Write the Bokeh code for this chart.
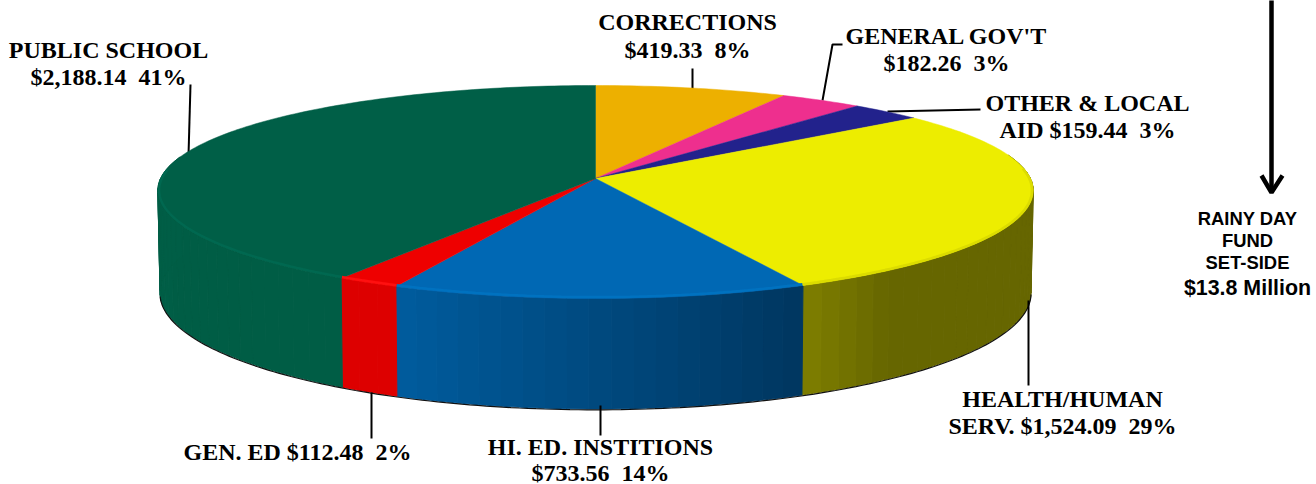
import math
from bokeh.plotting import figure
from bokeh.models import ColumnDataSource
from bokeh.core.properties import value
from bokeh.embed import file_html
from bokeh.resources import INLINE

# ---- data ----
categories = ["CORRECTIONS", "GENERAL GOV'T", "OTHER & LOCAL AID", "HEALTH/HUMAN SERV.",
              "HI. ED. INSTITIONS", "GEN. ED", "PUBLIC SCHOOL"]
amounts = [419.33, 182.26, 159.44, 1524.09, 733.56, 112.48, 2188.14]
top_colors = ["#EDB000", "#EE2F8E", "#22228C", "#EDED00", "#0068B4", "#EE0000", "#005F47"]
side_left = ["#B98A00", "#B92470", "#1A1A6E", "#7F7F00", "#005C9E", "#DD0000", "#005F47"]
side_right = ["#B98A00", "#B92470", "#1A1A6E", "#666600", "#00365F", "#DD0000", "#005D45"]
rim_colors = ["#EDB000", "#EE2F8E", "#22228C", "#DCDC00", "#0072C0", "#FF1010", "#006850"]

label_lines = ["PUBLIC SCHOOL", "$2,188.14\u00a0 41%", "CORRECTIONS", "$419.33\u00a0 8%",
               "GENERAL GOV'T", "$182.26\u00a0 3%", "OTHER & LOCAL", "AID $159.44\u00a0 3%",
               "HEALTH/HUMAN", "SERV. $1,524.09\u00a0 29%", "HI. ED. INSTITIONS", "$733.56\u00a0 14%",
               "GEN. ED $112.48\u00a0 2%"]
label_x = [108, 108, 687, 687, 946, 946, 1087, 1087, 1062, 1062, 600, 600, 297]
label_y = [49, 76, 21, 49, 35, 62, 102, 129, 398, 425, 446, 472, 451]

rainy_lines = ["RAINY DAY", "FUND", "SET-SIDE", "$13.8 Million"]
rainy_x = [1247, 1247, 1247, 1247]
rainy_y = [218, 240, 262, 287]
rainy_sizes = ["18.4px", "18.4px", "18.4px", "21.4px"]

# ---- perspective geometry of the disc (screen pixels) ----
CX, CY, R, H, K = 595.0, 178.0, 435.0, 104.8, 0.1268


def top_pt(theta):
    u, v = math.sin(theta), -math.cos(theta)
    d = 1 - K * v
    return CX + R * u / d * (1 - 0.015 * v), CY + H * v / d


def bottom_pt(theta):
    x, y = top_pt(theta)
    v = -math.cos(theta)
    return CX + (x - CX) * 0.995, y + 101 + 9.5 * v


def hex2rgb(c):
    return tuple(int(c[i:i + 2], 16) for i in (1, 3, 5))


def mix(a, b, t):
    ca, cb = hex2rgb(a), hex2rgb(b)
    return "#%02X%02X%02X" % tuple(round(x + (y - x) * t) for x, y in zip(ca, cb))


p = figure(width=1316, height=484, x_range=(0, 1316), y_range=(484, 0),
           output_backend="svg", toolbar_location=None, min_border=0,
           outline_line_color=None, background_fill_color="white",
           border_fill_color="white")
p.axis.visible = False
p.grid.visible = False

total = sum(amounts)
bounds = [0.0]
for a in amounts:
    bounds.append(bounds[-1] + a / total * 2 * math.pi)

# side wall strips
sx, sy, sc = [], [], []
for i, a in enumerate(amounts):
    t0, t1 = bounds[i], bounds[i + 1]
    n = max(2, int((t1 - t0) / math.radians(2.5)))
    for j in range(n):
        a0 = t0 + (t1 - t0) * j / n
        a1 = t0 + (t1 - t0) * (j + 1) / n
        if -math.cos(a0) < -0.2 and -math.cos(a1) < -0.2:
            continue
        g = (j + 0.5) / n            # 0 = screen right, 1 = screen left
        if i == 3:                   # olive settles quickly to its flat tone
            col = mix(side_right[i], side_left[i], max(0.0, min(1.0, (g - 0.88) / 0.12)))
        else:
            col = mix(side_right[i], side_left[i], g)
        x0, y0 = top_pt(a0)
        x1, y1 = top_pt(a1)
        x2, y2 = bottom_pt(a1)
        x3, y3 = bottom_pt(a0)
        sx.append([x0, x1, x2, x3])
        sy.append([y0, y1, y2, y3])
        sc.append(col)
p.patches(sx, sy, fill_color=sc, line_color=sc, line_width=1)

# dark lower edge of the wall
edge = [math.radians(d) for d in range(97, 263)]
p.line([bottom_pt(t)[0] for t in edge], [bottom_pt(t)[1] + 0.8 for t in edge],
       line_color="#101010", line_width=1.2)

# leader lines, drawn beneath the disc
p.line([190, 188], [84, 155], line_color="black", line_width=2)
p.line([371, 371], [392, 438], line_color="black", line_width=2)
p.line([600, 600], [405, 435], line_color="black", line_width=2)
p.line([1028, 1028], [300, 385], line_color="black", line_width=2)
p.line([692, 692], [68, 90], line_color="black", line_width=2)
p.line([842, 832, 822], [44, 44, 100], line_color="black", line_width=2)
p.line([980, 887], [109, 111], line_color="black", line_width=2)

# top face
tx, ty, tc, rx, ry, rc = [], [], [], [], [], []
for i, a in enumerate(amounts):
    t0, t1 = bounds[i], bounds[i + 1]
    n = max(8, int((t1 - t0) / math.radians(1)))
    pts = [top_pt(t0 + (t1 - t0) * j / n) for j in range(n + 1)]
    tx.append([CX] + [q[0] for q in pts])
    ty.append([CY] + [q[1] for q in pts])
    tc.append(top_colors[i])
    front = [t0 + (t1 - t0) * j / n for j in range(n + 1)]
    front = [t for t in front if -math.cos(t) > -0.1]
    if len(front) > 1:
        rx.append([CX + (top_pt(t)[0] - CX) * 0.997 for t in front])
        ry.append([CY + (top_pt(t)[1] - CY) * 0.988 for t in front])
        rc.append(rim_colors[i])
p.patches(tx, ty, fill_color=tc, line_color=tc, line_width=0.5)
p.multi_line(rx, ry, line_color=rc, line_width=2.5)

# rainy-day arrow
p.line([1271, 1271], [-2, 191], line_color="black", line_width=4.5)
p.line([1261, 1271, 1282], [175, 192, 175], line_color="black", line_width=4.5)

labels = ColumnDataSource(dict(x=label_x, y=label_y, t=label_lines))
p.text("x", "y", text="t", source=labels, text_font=value("Liberation Serif"),
       text_font_style="bold", text_font_size="24px", text_align="center",
       text_baseline="middle", text_color="black")
rainy = ColumnDataSource(dict(x=rainy_x, y=rainy_y, t=rainy_lines, s=rainy_sizes))
p.text("x", "y", text="t", source=rainy, text_font=value("Liberation Sans"),
       text_font_style="bold", text_font_size="s", text_align="center",
       text_baseline="middle", text_color="black")

open("out.html", "w").write(file_html(p, INLINE))
